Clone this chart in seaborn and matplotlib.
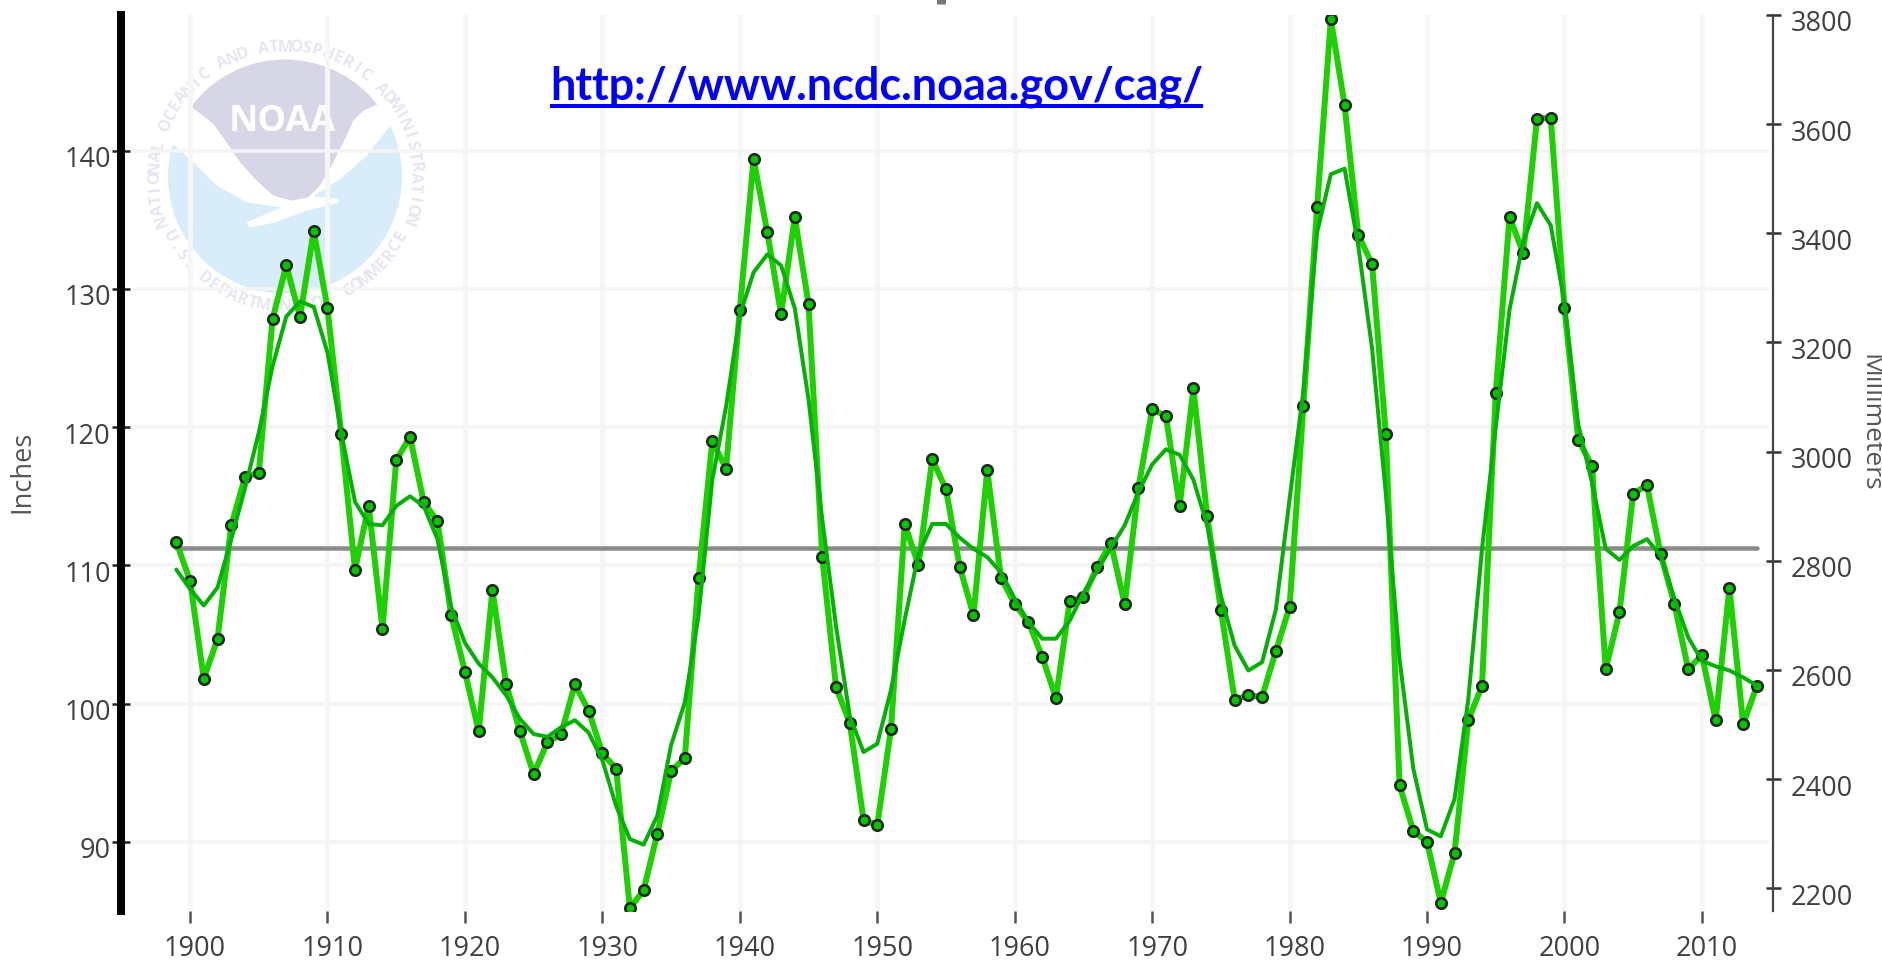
# Annual precipitation series with 9 point smooth and long term mean, NOAA climate at a glance style
import numpy as np
import pandas as pd
import matplotlib
matplotlib.use('Agg')
import matplotlib.pyplot as plt
import matplotlib.patches as mpatches
from matplotlib.transforms import ScaledTranslation
import seaborn as sns

# Data
years = list(range(1899, 2015))
inches = [111.7,
          108.9, 101.8, 104.7, 112.9, 116.4, 116.7, 127.8, 131.7, 128.0, 134.2,
          128.6, 119.5, 109.7, 114.3, 105.4, 117.6, 119.3, 114.6, 113.2, 106.4,
          102.3, 98.0, 108.2, 101.4, 98.0, 94.9, 97.2, 97.8, 101.4, 99.5,
          96.4, 95.3, 85.2, 86.5, 90.6, 95.1, 96.1, 109.1, 119.0, 117.0,
          128.5, 139.4, 134.1, 128.2, 135.2, 128.9, 110.6, 101.2, 98.6, 91.6,
          91.2, 98.2, 113.0, 110.0, 117.7, 115.5, 109.9, 106.4, 116.9, 109.1,
          107.2, 105.9, 103.4, 100.4, 107.4, 107.7, 109.9, 111.6, 107.2, 115.6,
          121.3, 120.8, 114.3, 122.8, 113.6, 106.8, 100.3, 100.6, 100.5, 103.8,
          107.0, 121.5, 135.9, 149.5, 143.3, 133.9, 131.8, 119.5, 94.1, 90.8,
          90.0, 85.6, 89.2, 98.8, 101.3, 122.5, 135.2, 132.6, 142.3, 142.4,
          128.6, 119.1, 117.2, 102.5, 106.6, 115.2, 115.8, 110.8, 107.2, 102.5,
          103.5, 98.8, 108.4, 98.5, 101.3]
smooth = [109.7,
          108.3, 107.1, 108.4, 111.9, 115.6, 119.6, 124.4, 128.0, 129.1, 128.7,
          125.4, 119.6, 114.6, 113.0, 112.9, 114.3, 115.0, 114.3, 111.9, 107.0,
          104.4, 102.9, 101.9, 100.6, 98.9, 97.8, 97.6, 98.3, 98.8, 97.9,
          95.9, 92.6, 90.2, 89.8, 91.9, 97.0, 100.1, 106.4, 116.2, 121.5,
          128.1, 131.2, 132.5, 131.7, 128.6, 122.0, 113.3, 105.6, 99.1, 96.5,
          97.1, 101.0, 106.1, 110.8, 113.0, 113.0, 112.0, 111.2, 110.6, 109.5,
          107.6, 105.9, 104.7, 104.7, 106.0, 108.0, 109.6, 111.3, 112.9, 115.3,
          117.3, 118.4, 118.0, 116.2, 112.9, 107.8, 104.2, 102.4, 103.0, 106.8,
          114.8, 122.6, 134.1, 138.3, 138.7, 133.1, 125.7, 115.2, 103.2, 95.3,
          90.9, 90.4, 93.1, 100.3, 111.2, 120.0, 128.5, 133.4, 136.2, 134.6,
          129.0, 120.2, 116.0, 111.2, 110.4, 111.4, 111.9, 110.7, 107.6, 104.8,
          103.1, 102.7, 102.4, 101.9, 101.3]
mean_years = [1899, 2014]
mean_inches = [111.25, 111.25]

year_ticks = list(range(1900, 2020, 10))
inch_ticks = [90, 100, 110, 120, 130, 140]
mm_ticks = list(range(2200, 4000, 200))
url_text = 'http://www.ncdc.noaa.gov/cag/'
ring_top = 'NATIONAL OCEANIC AND ATMOSPHERIC ADMINISTRATION'
ring_bottom = 'U.S. DEPARTMENT OF COMMERCE'

W, H = 1883, 962
df = pd.DataFrame({'year': years, 'inches': inches, 'smooth': smooth})
mean_df = pd.DataFrame({'year': mean_years, 'inches': mean_inches})

sns.set_theme(style='white')
plt.rcParams['font.family'] = ['Open Sans', 'DejaVu Sans']
TICK_COL = '#404040'
LABEL_COL = '#555555'


def px(n):
    # pixels to points at dpi 100
    return n * 72 / 100


fig = plt.figure(figsize=(W / 100, H / 100), dpi=100, facecolor='white')

# Background layer in pixel coordinates for the logo, front layer for the link
bg = fig.add_axes([0, 0, 1, 1], zorder=0)
front = fig.add_axes([0, 0, 1, 1], zorder=5)
for layer in [bg, front]:
    layer.set_xlim(0, W)
    layer.set_ylim(H, 0)
    layer.axis('off')

# Plot area from x=133..1769 and y=16..912
ax = fig.add_axes([133 / W, 1 - 912 / H, (1769 - 133) / W, (912 - 16) / H], zorder=1)
ax.patch.set_visible(False)

# NOAA logo, drawn from polygons traced in a 3x crop of the logo
cx, cy, rad = 285, 177.5, 117
disc = mpatches.Circle((cx, cy), rad, transform=bg.transData, fc='none', ec='none')
bg.add_patch(disc)


def crop(pts):
    return np.array([(100 + a / 3, b / 3) for a, b in pts])


blue_pts = [(150, 440), (225, 440), (280, 490), (350, 560), (440, 610), (545, 625), (440, 670), (450, 685),
            (520, 672), (620, 635), (715, 612), (715, 600), (640, 592), (720, 540), (800, 470), (875, 375),
            (960, 375), (960, 950), (150, 950)]
lav_pts = [(270, 320), (300, 150), (800, 150), (835, 315), (790, 335), (760, 365), (730, 430), (700, 490),
           (660, 560), (625, 595), (575, 605), (520, 590), (470, 545), (420, 490), (380, 430), (340, 375)]
for pts, col in [(blue_pts, '#d8ecfa'), (lav_pts, '#d6d6e6')]:
    poly = mpatches.Polygon(crop(pts), closed=True, fc=col, ec='none')
    bg.add_patch(poly)
    poly.set_clip_path(disc)
bg.text(282, 122, 'NOAA', color='white', fontsize=26, fontweight='bold', ha='center', va='center')

ring_r = 130
for i, ch in enumerate(ring_top):
    th = np.radians(-109 + 218 * i / (len(ring_top) - 1))
    bg.text(cx + ring_r * np.sin(th), cy - ring_r * np.cos(th), ch, rotation=-np.degrees(th),
            rotation_mode='anchor', ha='center', va='center', fontsize=11.5, color='#e6e6f2', fontweight='bold')
for i, ch in enumerate(ring_bottom):
    th = np.radians(-63 + 126 * i / (len(ring_bottom) - 1))
    bg.text(cx + ring_r * np.sin(th), cy + ring_r * np.cos(th), ch, rotation=np.degrees(th),
            rotation_mode='anchor', ha='center', va='center', fontsize=11.5, color='#e6e6f2', fontweight='bold')

# Series
sns.lineplot(data=mean_df, x='year', y='inches', ax=ax, color='#8a8a8a', linewidth=px(4.5), zorder=3)
sns.lineplot(data=df, x='year', y='inches', ax=ax, color='#1fd000', linewidth=px(6), zorder=4,
             estimator=None, marker='o', markersize=px(10.5), markerfacecolor='#06c400',
             markeredgecolor='#1c2a1c', markeredgewidth=px(2.6))
sns.lineplot(data=df, x='year', y='smooth', ax=ax, color='#06b006', linewidth=px(4), zorder=5, estimator=None)

# x=190 is 1900 and 137.45 px is one decade; y=151.7 is 140 and 13.82 px is one inch
ax.set_xlim(1895.85, 2014.88)
ax.set_ylim(85.0, 149.82)
ax.set_xticks(year_ticks)
ax.set_yticks(inch_ticks)
ax.set_xlabel('')
ax.set_ylabel('')
ax.grid(True, axis='x', color='#f6f6f6', linewidth=px(5), zorder=1)
ax.grid(True, axis='y', color='#f4f4f4', linewidth=px(3.5), zorder=1)
ax.set_axisbelow(True)

sns.despine(ax=ax, top=True, right=True, bottom=True, left=False)
ax.spines['left'].set_position(('outward', px(12.3)))
ax.spines['left'].set_linewidth(px(8))
ax.spines['left'].set_color('black')
ax.tick_params(axis='y', direction='inout', length=px(18), width=px(2.5), color='#222222', pad=px(1),
               labelsize=19.5, labelcolor=TICK_COL, left=True)
ax.tick_params(axis='x', direction='out', length=px(12), width=px(2.5), color='#555555', pad=px(11),
               labelsize=19.5, labelcolor=TICK_COL, bottom=True)

# Right axis in millimeters
rax = ax.twinx()
rax.set_ylim(2158.4, 3800)
rax.set_yticks(mm_ticks)
rax.grid(False)
rax.patch.set_visible(False)
for side in ['top', 'left', 'bottom']:
    rax.spines[side].set_visible(False)
rax.spines['right'].set_position(('outward', px(4)))
rax.spines['right'].set_linewidth(px(2.2))
rax.spines['right'].set_color('#444444')
rax.tick_params(axis='y', direction='inout', length=px(15), width=px(2.5), color='#333333', pad=px(10),
                labelsize=19.5, labelcolor=TICK_COL, right=True)

# Tick labels sit slightly below and to the right of their ticks in the original
fig.canvas.draw()
shift_y = ScaledTranslation(0, -5 / 100, fig.dpi_scale_trans)
shift_x = ScaledTranslation(5 / 100, 0, fig.dpi_scale_trans)
for lab in ax.get_yticklabels() + rax.get_yticklabels():
    lab.set_transform(lab.get_transform() + shift_y)
for lab in ax.get_xticklabels():
    lab.set_transform(lab.get_transform() + shift_x)

fig.text(22 / W, 1 - 472 / H, 'Inches', rotation=90, ha='center', va='center', fontsize=19.5, color=LABEL_COL)
fig.text(1870 / W, 1 - 423 / H, 'Millimeters', rotation=270, ha='center', va='center', fontsize=19, color=LABEL_COL)

# Link text, fitted to its width in the original, with a hand drawn underline
url = front.text(550, 100, url_text, color='#0000ff', fontsize=30, fontweight='bold', ha='left', va='baseline',
                 family=['Lato', 'DejaVu Sans'])
rend = fig.canvas.get_renderer()
url.set_fontsize(30 * 651 / url.get_window_extent(rend).width)
box = url.get_window_extent(rend)
front.plot([box.x0, box.x1], [107, 107], color='#0000ff', linewidth=px(4), solid_capstyle='butt')

# Sliver of ink left over from the cropped title at the top edge
front.plot([941, 941], [0, 5], color='#777777', linewidth=px(9), solid_capstyle='butt')

fig.savefig('out.png', dpi=100)
